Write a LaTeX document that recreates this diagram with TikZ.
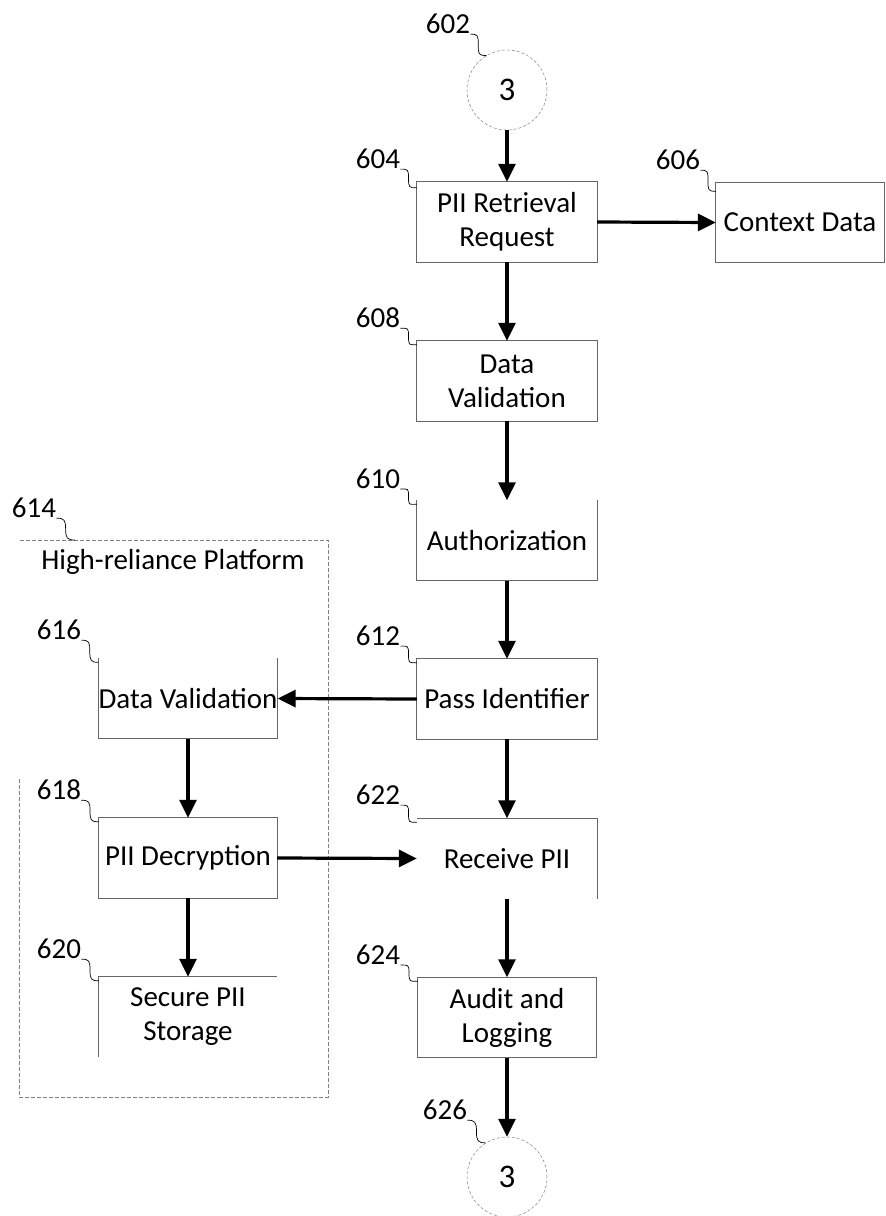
\documentclass[tikz,border=0pt]{standalone}
\usepackage{fontspec}
\setmainfont{Carlito}
\usetikzlibrary{arrows.meta,calc}
\newcommand{\leaderline}[2]{%
  \draw[leader] (#1.south east) .. controls +(8,0) and +(0,-9) .. ($(#1.south east)!0.5!(#2)$) .. controls +(0,9) and +(-8,0) .. (#2);}
\begin{document}
\begin{tikzpicture}[x=1pt,y=-1pt,
  txt/.style={font=\fontsize{29}{34}\selectfont, align=center, inner sep=0pt},
  boxnode/.style={txt, minimum width=180pt, minimum height=80pt},
  edge/.style={draw=gray!80!black, line width=0.8pt},
  flow/.style={line width=3.2pt, -{Triangle[length=18pt,width=17pt]}},
  leader/.style={line width=0.7pt, black},
  lbl/.style={font=\fontsize{29}{34}\selectfont, inner sep=0pt},
  conn/.style={circle, draw=gray, densely dashed, line width=0.5pt, minimum size=80pt, inner sep=0pt, font=\fontsize{33}{38}\selectfont},
  frame/.style={draw=gray, line width=0.8pt, dash pattern=on 4pt off 2pt}]
\useasboundingbox (0,0) rectangle (886,1216);

% connectors (circles)
\node[conn] (c602) at (507,90) {3};
\node[conn] (c626) at (507,1177) {3};

% boxes
\node[boxnode] (b604) at (507,222) {PII Retrieval\\Request};
\node[boxnode, minimum width=168pt] (b606) at (800,222.5) {Context Data};
\node[boxnode] (b608) at (507,381) {Data\\Validation};
\node[boxnode] (b610) at (507,540.5) {Authorization};
\node[boxnode] (b612) at (507,699) {Pass Identifier};
\node[boxnode] (b622) at (507,858.5) {Receive PII};
\node[boxnode, minimum width=178pt] (b624) at (507,1017.5) {Audit and\\Logging};
\node[boxnode, minimum width=178pt] (b616) at (188,698.5) {Data Validation};
\node[boxnode, minimum width=178pt] (b618) at (188,858) {PII Decryption};
\node[boxnode, minimum width=178pt] (b620) at (188,1017) {Secure PII\\Storage};

% box outlines (as printed, some sides missing)
\draw[edge] (b604.north west) rectangle (b604.south east);
\draw[edge] (b606.north west) rectangle (b606.south east);
\draw[edge] (b608.north west) rectangle (b608.south east);
\draw[edge] (b610.north west) -- (b610.south west) -- (b610.south east) -- (b610.north east);
\draw[edge] (b612.north west) rectangle (b612.south east);
\draw[edge] (b622.north west) -- (b622.north east) -- (b622.south east);
\draw[edge] (b624.north west) rectangle (b624.south east);
\draw[edge] (b616.north west) -- (b616.south west) -- (b616.south east) -- (b616.north east);
\draw[edge] (b618.north west) rectangle (b618.south east);
\draw[edge] (b620.south west) -- (b620.north west) -- (b620.north east);

% high-reliance platform frame
\coordinate (f1) at (19,779);
\coordinate (f2) at (19,1097);
\coordinate (f3) at (328,1097);
\coordinate (f4) at (328,540);
\coordinate (f5) at (19,540);
\coordinate (f614) at (75,540);
\draw[frame] (f1) -- (f2) -- (f3) -- (f4) -- (f5);
\node[txt] (hrp) at (173,562) {High-reliance Platform};

% flow arrows
\draw[flow] (c602.south) -- (b604.north);
\draw[flow] (b604.east) -- (b606.west);
\draw[flow] (b604.south) -- (b608.north);
\draw[flow] (b608.south) -- (b610.north);
\draw[flow] (b610.south) -- (b612.north);
\draw[flow] (b612.west) -- (b616.east);
\draw[flow] (b612.south) -- (b622.north);
\draw[flow] (b616.south) -- (b618.north);
\draw[flow] (b618.south) -- (b620.north);
\draw[flow] (b618.east) -- (b622.west);
\draw[flow] (b622.south) -- (b624.north);
\draw[flow] (b624.south) -- (c626.north);

% reference labels
\node[lbl] (l602) at (448,24) {602};
\node[lbl] (l604) at (378,159) {604};
\node[lbl] (l606) at (678,160) {606};
\node[lbl] (l608) at (378,318) {608};
\node[lbl] (l610) at (378,479) {610};
\node[lbl] (l612) at (378,636) {612};
\node[lbl] (l614) at (34,508) {614};
\node[lbl] (l616) at (59,630) {616};
\node[lbl] (l618) at (59,790) {618};
\node[lbl] (l620) at (59,949) {620};
\node[lbl] (l622) at (378,795) {622};
\node[lbl] (l624) at (378,955) {624};
\node[lbl] (l626) at (445,1110) {626};

\leaderline{l602}{c602.121}
\leaderline{l604}{[yshift=-6pt]b604.north west}
\leaderline{l606}{[yshift=-9pt]b606.north west}
\leaderline{l608}{[yshift=-4pt]b608.north west}
\leaderline{l610}{[yshift=-4pt]b610.north west}
\leaderline{l612}{[yshift=-4pt]b612.north west}
\leaderline{l614}{f614}
\leaderline{l616}{[yshift=-4pt]b616.north west}
\leaderline{l618}{[yshift=-4pt]b618.north west}
\leaderline{l620}{[yshift=-4pt]b620.north west}
\leaderline{l622}{[yshift=-4pt]b622.north west}
\leaderline{l624}{[yshift=-4pt]b624.north west}
\leaderline{l626}{c626.122}
\end{tikzpicture}
\end{document}
